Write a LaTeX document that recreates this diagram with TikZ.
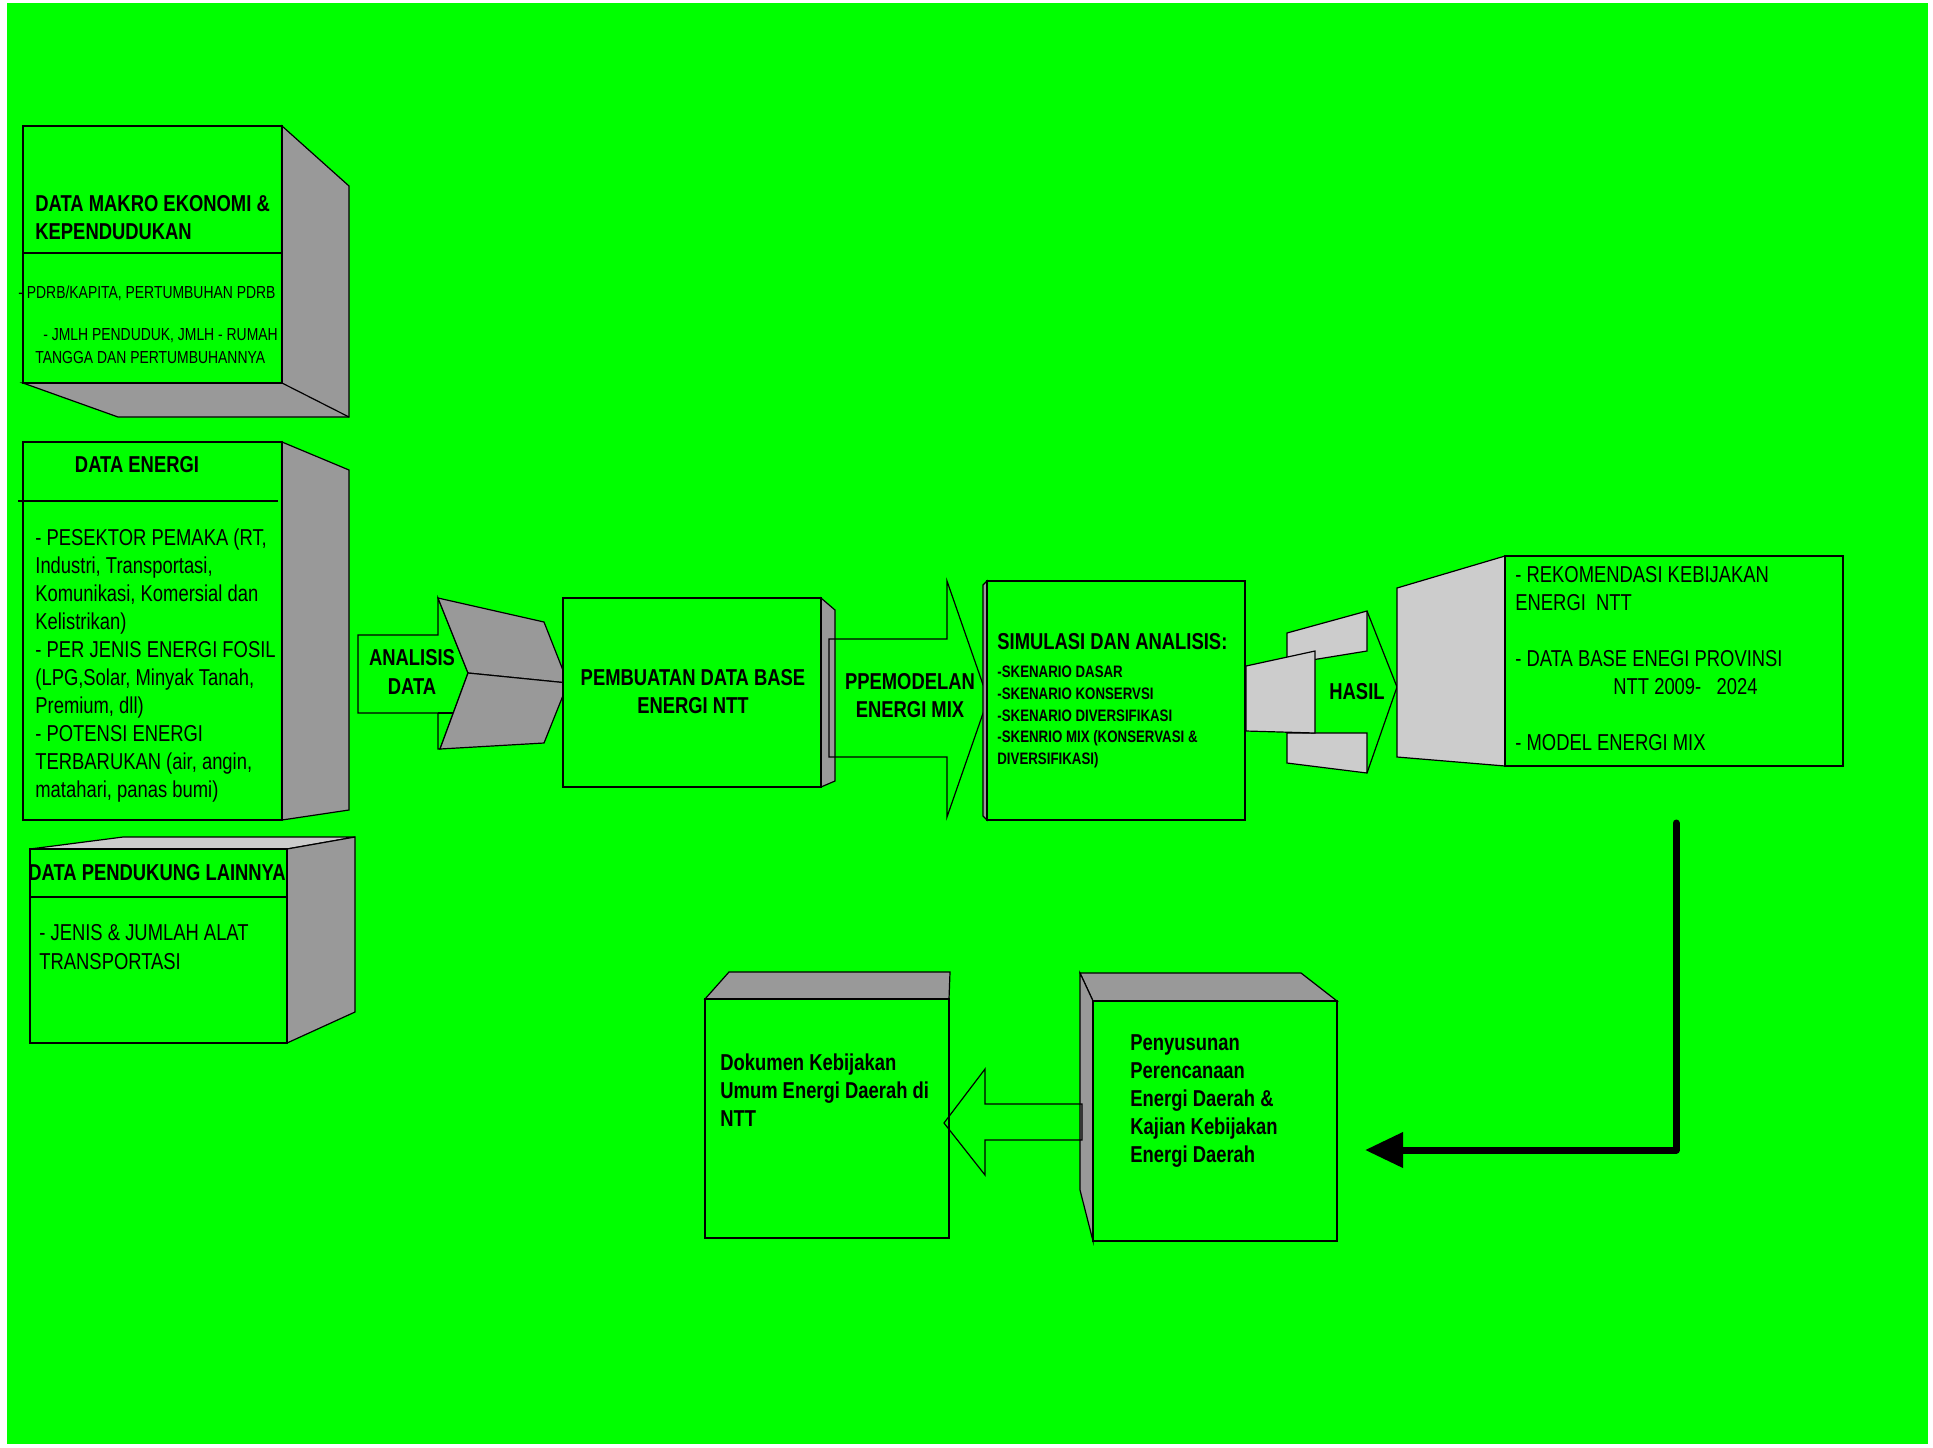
\documentclass[tikz,border=0pt]{standalone}
\usepackage{fontspec}
\setmainfont{Liberation Sans}[FakeStretch=0.8]
\usepackage{tikz}
\usetikzlibrary{arrows.meta}
\definecolor{bggreen}{HTML}{00FF00}
\definecolor{darkside}{HTML}{999999}
\definecolor{lightside}{HTML}{CCCCCC}

\begin{document}
\begin{tikzpicture}[x=0.5pt, y=-0.5pt,
    face/.style={draw=black, fill=bggreen, line width=0.6pt},
    side/.style={draw=black, fill=darkside, line width=0.6pt},
    lside/.style={draw=black, fill=lightside, line width=0.6pt},
    outline/.style={draw=black, line width=0.6pt},
    hline/.style={line width=1.2pt},
    bigarrow/.style={line width=3.5pt, line cap=round, line join=round,
        -{Triangle[length=19pt, width=17pt]}}]
    \useasboundingbox (0,0) rectangle (1933,1447);
    \fill[white] (0,0) rectangle (1933,1447);
    \fill[bggreen] (7,3) rectangle (1928,1444);

    % left column boxes
    \draw[side] (282,126) -- (349,186) -- (349,417) -- (118,417) -- (23,383) -- (282,383) -- cycle;
    \draw[outline] (282,383) -- (349,417);
    \draw[face] (23,126) rectangle (282,383);
    \draw[hline] (23,253) -- (282,253);

    \draw[side] (282,442) -- (349,470) -- (349,810) -- (282,820) -- cycle;
    \draw[face] (23,442) rectangle (282,820);
    \draw[hline] (18,501) -- (278,501);

    \draw[lside] (30,849) -- (123,837) -- (355,837) -- (287,849) -- cycle;
    \draw[side] (287,849) -- (355,837) -- (355,1012) -- (287,1043) -- cycle;
    \draw[face] (30,849) rectangle (287,1043);
    \draw[hline] (30,897) -- (287,897);

    % analisis data arrow
    \draw[face] (358,635) -- (438,635) -- (438,598) -- (468,673) -- (440,749) -- (438,749) -- (438,713) -- (358,713) -- cycle;
    \draw[outline] (438,713) -- (453,713);
    \draw[side] (438,598) -- (544,622) -- (568,683) -- (468,673) -- cycle;
    \draw[side] (468,673) -- (568,683) -- (544,743) -- (440,749) -- cycle;

    % data base and simulasi
    \draw[side] (821,598) -- (835,610) -- (835,781) -- (821,787) -- cycle;
    \draw[face] (563,598) rectangle (821,787);
    \draw[outline] (829,639) -- (947,639) -- (947,581) -- (988,699) -- (947,817) -- (947,757) -- (829,757) -- cycle;
    \draw[side] (983,585) -- (987,581) -- (987,820) -- (983,816) -- cycle;
    \draw[face] (987,581) rectangle (1245,820);

    % hasil
    \draw[lside] (1287,633) -- (1367,611) -- (1367,651) -- (1287,664) -- cycle;
    \draw[lside] (1287,733) -- (1367,733) -- (1367,773) -- (1287,763) -- cycle;
    \draw[lside] (1246,666) -- (1315,651) -- (1315,733) -- (1246,731) -- cycle;
    \draw[outline] (1367,611) -- (1397,687) -- (1367,773);
    \draw[lside] (1397,588) -- (1505,556) -- (1505,766) -- (1397,757) -- cycle;
    \draw[face] (1505,556) rectangle (1843,766);

    % bottom row
    \draw[side] (705,999) -- (729,972) -- (950,972) -- (949,999) -- cycle;
    \draw[face] (705,999) rectangle (949,1238);
    \draw[side] (1080,973) -- (1301,973) -- (1337,1001) -- (1093,1001) -- cycle;
    \draw[side] (1080,973) -- (1093,1001) -- (1093,1241) -- (1080,1190) -- cycle;
    \draw[face] (1093,1001) rectangle (1337,1241);
    \draw[outline] (1082,1104) -- (985,1104) -- (985,1069) -- (944,1123) -- (985,1175) -- (985,1140) -- (1082,1140) -- cycle;

    \begin{scope}[every node/.style={inner sep=0pt, align=left,
        font=\bfseries\fontsize{11.5}{14}\selectfont}]
        \node[anchor=west] (makro) at (35,218) {DATA MAKRO EKONOMI \&\\KEPENDUDUKAN};
        \node (energi) at (137,465) {DATA ENERGI};
        \node (dukung) at (157,873) {DATA PENDUKUNG LAINNYA};
        \node[align=center, font=\bfseries\fontsize{11.5}{14.5}\selectfont] (analisis) at (412,672) {ANALISIS\\DATA};
        \node[align=center] (dbase) at (693,692) {PEMBUATAN DATA BASE\\ENERGI NTT};
        \node[align=center] (model) at (910,696) {PPEMODELAN\\ENERGI MIX};
        \node[anchor=west] (simul) at (997,642) {SIMULASI DAN ANALISIS:};
        \node[anchor=west, font=\bfseries\fontsize{8.3}{10.9}\selectfont] (skenario) at (997,717)
            {-SKENARIO DASAR\\-SKENARIO KONSERVSI\\-SKENARIO DIVERSIFIKASI\\-SKENRIO MIX (KONSERVASI \&\\DIVERSIFIKASI)};
        \node (hasil) at (1357,692) {HASIL};
        \node[anchor=west] (dokumen) at (720,1090) {Dokumen Kebijakan\\Umum Energi Daerah di\\NTT};
        \node[anchor=west] (susun) at (1130,1101) {Penyusunan\\Perencanaan\\Energi Daerah \&\\Kajian Kebijakan\\Energi Daerah};
    \end{scope}

    \begin{scope}[every node/.style={inner sep=0pt, align=left,
        font=\fontsize{11.5}{14}\selectfont}]
        \node[anchor=west, font=\fontsize{8.7}{11.5}\selectfont] (pdrb) at (18,293) {- PDRB/KAPITA, PERTUMBUHAN PDRB};
        \node[anchor=west, font=\fontsize{8.7}{11.5}\selectfont] (jmlh) at (35,346)
            {\hspace*{4pt}- JMLH PENDUDUK, JMLH - RUMAH\\TANGGA DAN PERTUMBUHANNYA};
        \node[anchor=west] (energilist) at (35,666) {- PESEKTOR PEMAKA (RT,\\Industri, Transportasi,\\Komunikasi, Komersial dan\\Kelistrikan)\\- PER JENIS ENERGI FOSIL\\(LPG,Solar, Minyak Tanah,\\Premium, dll)\\- POTENSI ENERGI\\TERBARUKAN (air, angin,\\matahari, panas bumi)};
        \node[anchor=west, font=\fontsize{11.5}{14.5}\selectfont] (alat) at (39,947) {- JENIS \& JUMLAH ALAT\\TRANSPORTASI};
        \node[anchor=west] (hasillist) at (1515,659) {- REKOMENDASI KEBIJAKAN\\ENERGI~~NTT\\[14pt]- DATA BASE ENEGI PROVINSI\\\hspace*{49pt}NTT 2009-~~~2024\\[14pt]- MODEL ENERGI MIX};
    \end{scope}

    \coordinate (turnout) at (1676,823);
    \coordinate (turnin) at (1365,1150);
    \draw[bigarrow] (turnout) |- (turnin);
\end{tikzpicture}
\end{document}
